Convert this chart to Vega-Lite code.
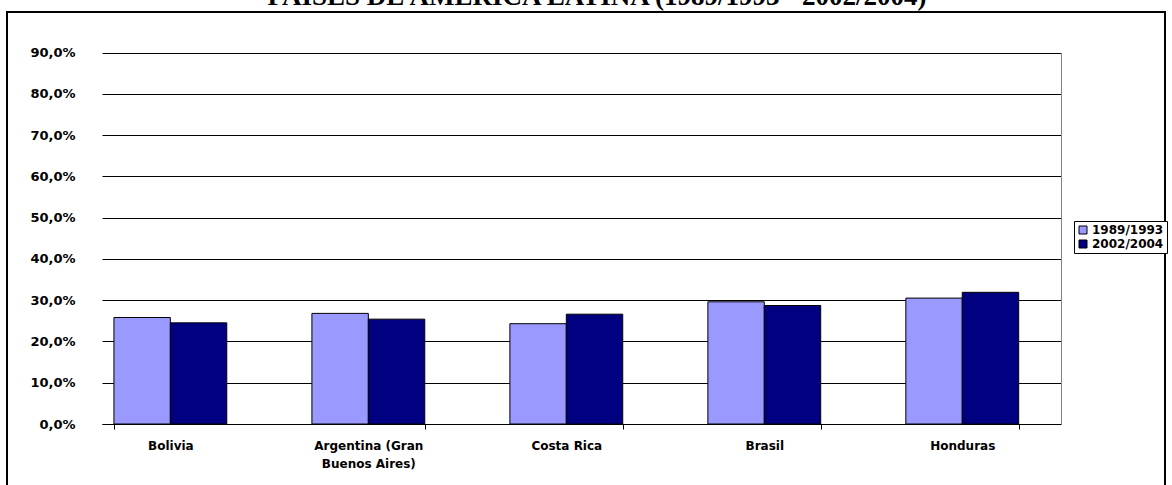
{
  "$schema": "https://vega.github.io/schema/vega-lite/v6.json",
  "autosize": {"type": "none"},
  "padding": {"left": 7, "top": 12, "right": 7, "bottom": 0},
  "width": 1158,
  "height": 480,
  "title": {
    "text": "PAISES DE AMERICA LATINA (1989/1993 - 2002/2004)",
    "font": "Liberation Serif",
    "fontSize": 27,
    "fontWeight": "bold",
    "color": "black",
    "anchor": "middle",
    "frame": "group",
    "baseline": "alphabetic",
    "offset": 0,
    "dy": 20,
    "dx": 11
  },
  "data": {
    "values": [
      {"pais": "Bolivia", "periodo": "1989/1993", "valor": 0.258},
      {"pais": "Bolivia", "periodo": "2002/2004", "valor": 0.245},
      {"pais": "Argentina (Gran Buenos Aires)", "periodo": "1989/1993", "valor": 0.268},
      {"pais": "Argentina (Gran Buenos Aires)", "periodo": "2002/2004", "valor": 0.254},
      {"pais": "Costa Rica", "periodo": "1989/1993", "valor": 0.243},
      {"pais": "Costa Rica", "periodo": "2002/2004", "valor": 0.266},
      {"pais": "Brasil", "periodo": "1989/1993", "valor": 0.296},
      {"pais": "Brasil", "periodo": "2002/2004", "valor": 0.287},
      {"pais": "Honduras", "periodo": "1989/1993", "valor": 0.305},
      {"pais": "Honduras", "periodo": "2002/2004", "valor": 0.319}
    ]
  },
  "encoding": {
    "x": {
      "field": "pais",
      "type": "nominal",
      "sort": null,
      "scale": {"range": [95, 1054], "paddingInner": 0.43, "paddingOuter": 0.137, "align": 0.22},
      "axis": {
        "orient": "bottom",
        "offset": -68,
        "title": null,
        "grid": false,
        "domainColor": "black",
        "domainWidth": 1,
        "tickBand": "extent",
        "tickColor": "black",
        "tickSize": 5,
        "tickWidth": 1,
        "tickOpacity": {"condition": {"test": "datum.value === 'Bolivia'", "value": 0}, "value": 1},
        "labelAngle": 0,
        "labelFont": "DejaVu Sans",
        "labelFontWeight": "bold",
        "labelFontSize": 12,
        "labelColor": "black",
        "labelPadding": 11,
        "labelLimit": 0,
        "labelLineHeight": 18,
        "labelExpr": "datum.label == 'Argentina (Gran Buenos Aires)' ? ['Argentina (Gran', 'Buenos Aires)'] : datum.label"
      }
    }
  },
  "layer": [
    {
      "mark": {"type": "bar", "stroke": "black", "strokeWidth": 1},
      "encoding": {
        "xOffset": {"field": "periodo", "type": "nominal", "scale": {"paddingInner": 0, "paddingOuter": 0}},
        "y": {
          "field": "valor",
          "type": "quantitative",
          "scale": {"domain": [0, 0.9], "range": [412, 40.5], "nice": false, "zero": true},
          "axis": {
            "orient": "left",
            "offset": -95,
            "title": null,
            "values": [0, 0.1, 0.2, 0.3, 0.4, 0.5, 0.6, 0.7, 0.8, 0.9],
            "format": ".1%",
            "domain": false,
            "ticks": false,
            "grid": true,
            "gridColor": "black",
            "gridWidth": 1,
            "gridOpacity": 1,
            "labelFont": "DejaVu Sans",
            "labelFontWeight": "bold",
            "labelFontSize": 13,
            "labelColor": "black",
            "labelPadding": 27
          }
        },
        "color": {
          "field": "periodo",
          "type": "nominal",
          "scale": {"domain": ["1989/1993", "2002/2004"], "range": ["#9999FF", "#000080"]},
          "legend": {
            "orient": "none",
            "legendX": 1067,
            "legendY": 209,
            "title": null,
            "strokeColor": "black",
            "fillColor": "white",
            "padding": 3,
            "symbolType": "square",
            "symbolSize": 64,
            "symbolStrokeColor": "black",
            "symbolStrokeWidth": 1,
            "labelFont": "DejaVu Sans",
            "labelFontWeight": "bold",
            "labelFontSize": 12,
            "labelColor": "black",
            "labelOffset": 3,
            "rowPadding": 2
          }
        }
      }
    },
    {
      "mark": {"type": "bar", "opacity": 0},
      "encoding": {
        "y": {
          "field": "valor",
          "type": "quantitative",
          "axis": {
            "orient": "right",
            "offset": -104,
            "title": null,
            "domain": true,
            "domainColor": "#808080",
            "domainWidth": 1,
            "labels": false,
            "ticks": false,
            "grid": false
          }
        }
      }
    }
  ],
  "resolve": {"axis": {"y": "independent"}},
  "config": {
    "locale": {"number": {"decimal": ",", "thousands": ".", "grouping": [3], "currency": ["", " €"]}},
    "view": {"stroke": "black", "strokeWidth": 2}
  }
}
